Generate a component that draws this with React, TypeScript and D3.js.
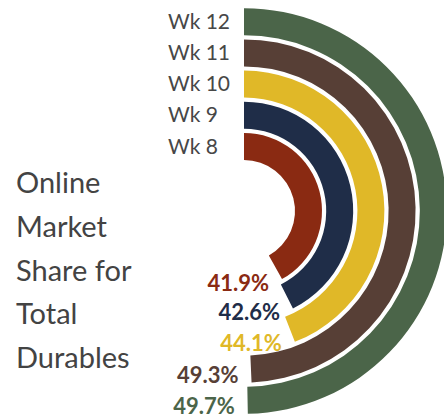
import React from "react";
import * as d3 from "d3";

const weeks = ["Wk 8", "Wk 9", "Wk 10", "Wk 11", "Wk 12"];
const shares = [41.9, 42.6, 44.1, 49.3, 49.7];
const colors = ["#8A2A12", "#1F2D48", "#E0B828", "#573F36", "#4B6549"];
const titleLines = ["Online", "Market", "Share for", "Total", "Durables"];
const maxShare = 50;

const W = 444;
const H = 418;
const cx = 244;
const cy = 211;

export default function App() {
  const angle = d3.scaleLinear().domain([0, maxShare]).range([0, Math.PI]);
  const radius = d3
    .scaleBand<string>()
    .domain(weeks)
    .range([51, 202.8])
    .paddingInner(0.135)
    .paddingOuter(0);
  const arc = d3.arc<any>();

  return (
    <svg
      width={W}
      height={H}
      style={{ position: "absolute", left: 0, top: 0, display: "block" }}
      fontFamily="Lato, 'Open Sans', sans-serif"
    >
      <rect width={W} height={H} fill="#ffffff" />
      <g transform={`translate(${cx},${cy})`}>
        {weeks.map((w, i) => {
          const r0 = radius(w)!;
          const r1 = r0 + radius.bandwidth();
          const a = angle(shares[i]);
          const d = arc({ innerRadius: r0, outerRadius: r1, startAngle: 0, endAngle: a })!;
          return <path key={w} d={d} fill={colors[i]} />;
        })}
        {weeks.map((w, i) => {
          const r0 = radius(w)!;
          const rm = r0 + radius.bandwidth() / 2;
          return (
            <text
              key={"wk" + w}
              x={-76}
              y={-rm + 7}
              textAnchor="start"
              fontSize={21}
              fill="#474747"
            >
              {w}
            </text>
          );
        })}
        {weeks.map((w, i) => {
          const r1 = radius(w)! + radius.bandwidth();
          const a = angle(shares[i]);
          const px = r1 * Math.sin(a);
          const py = -r1 * Math.cos(a);
          const deg = (Math.PI - a) * (180 / Math.PI);
          return (
            <text
              key={"pct" + w}
              x={px - 13}
              y={py + 0.42 * deg}
              textAnchor="end"
              fontSize={22}
              fontWeight="bold"
              fill={colors[i]}
            >
              {`${shares[i].toFixed(1)}%`}
            </text>
          );
        })}
      </g>
      {titleLines.map((t, i) => (
        <text key={t} x={16} y={193 + i * 43.8} fontSize={29} fill="#434343">
          {t}
        </text>
      ))}
    </svg>
  );
}
